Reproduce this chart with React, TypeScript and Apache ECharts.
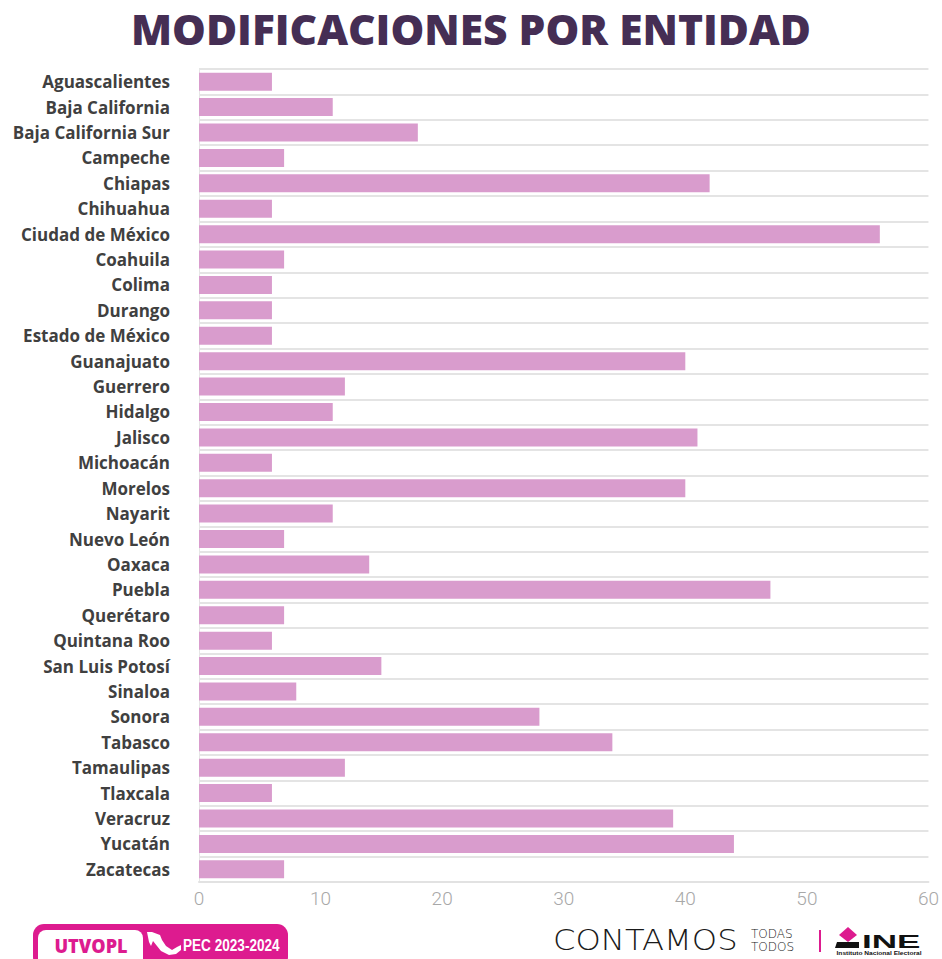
import React, { useEffect, useRef } from "react";
import * as echarts from "echarts";

const categories = [
  "Aguascalientes", "Baja California", "Baja California Sur", "Campeche", "Chiapas",
  "Chihuahua", "Ciudad de México", "Coahuila", "Colima", "Durango", "Estado de México",
  "Guanajuato", "Guerrero", "Hidalgo", "Jalisco", "Michoacán", "Morelos", "Nayarit",
  "Nuevo León", "Oaxaca", "Puebla", "Querétaro", "Quintana Roo", "San Luis Potosí",
  "Sinaloa", "Sonora", "Tabasco", "Tamaulipas", "Tlaxcala", "Veracruz", "Yucatán", "Zacatecas",
];
const values = [
  6, 11, 18, 7, 42, 6, 56, 7, 6, 6, 6, 40, 12, 11, 41, 6, 40, 11, 7, 14, 47, 7, 6, 15,
  8, 28, 34, 12, 6, 39, 44, 7,
];
const xTicks = { min: 0, max: 60, interval: 10 };
const title = "MODIFICACIONES POR ENTIDAD";

export default function App() {
  const ref = useRef<HTMLDivElement>(null);
  useEffect(() => {
    document.body.style.margin = "0";
    const chart = echarts.init(ref.current!, null, { renderer: "svg" });
    const pink = "#dd1b8f";
    chart.setOption({
      animation: false,
      backgroundColor: "#ffffff",
      title: {
        text: title,
        left: "center",
        top: 2,
        textStyle: {
          fontFamily: "Open Sans",
          fontWeight: 800,
          fontSize: 42.5,
          color: "#452e54",
        },
      },
      grid: { left: 199, right: 13, top: 69, bottom: 77, containLabel: false },
      xAxis: {
        type: "value",
        min: xTicks.min,
        max: xTicks.max,
        interval: xTicks.interval,
        axisLine: { show: true, lineStyle: { color: "#e2e2e2", width: 2 } },
        axisTick: { show: false },
        splitLine: { show: false },
        axisLabel: {
          margin: 7,
          fontFamily: "Roboto",
          fontWeight: 300,
          fontSize: 19,
          color: "#a8a8a8",
        },
      },
      yAxis: {
        type: "category",
        data: categories,
        inverse: true,
        axisLine: { show: true, lineStyle: { color: "#e6e6e6", width: 1 } },
        axisTick: { show: false },
        splitLine: { show: true, lineStyle: { color: "#e4e4e4", width: 2 } },
        axisLabel: {
          margin: 29,
          fontFamily: "Open Sans",
          fontWeight: 700,
          fontSize: 17,
          color: "#404040",
        },
      },
      series: [
        {
          type: "bar",
          data: values,
          barWidth: 18,
          itemStyle: { color: "#d99ccd" },
        },
      ],
      graphic: [
        // UTVOPL badge
        { type: "rect", shape: { x: 33, y: 924, width: 255, height: 44, r: 11 }, style: { fill: pink } },
        { type: "rect", shape: { x: 38, y: 930, width: 105, height: 40, r: 8 }, style: { fill: "#ffffff" } },
        {
          type: "text",
          x: 91, y: 945,
          scaleX: 0.95,
          style: {
            text: "UTVOPL", x: 0, y: 0, align: "center", verticalAlign: "middle",
            fontFamily: "Open Sans", fontWeight: 800, fontSize: 19, fill: pink,
          },
        },
        {
          type: "polygon",
          shape: {
            points: [
              [147, 932], [152, 932], [160, 935], [162, 940], [166, 946], [172, 950], [177, 947],
              [181, 945], [181, 950], [176, 954], [169, 955], [161, 951], [157, 946], [153, 941],
              [151, 946], [149, 942], [148, 937],
            ],
          },
          style: { fill: "#ffffff" },
        },
        {
          type: "text",
          x: 183, y: 945,
          scaleX: 0.8,
          style: {
            text: "PEC 2023-2024", x: 0, y: 0, align: "left", verticalAlign: "middle",
            fontFamily: "Liberation Sans", fontWeight: 700, fontSize: 17, fill: "#ffffff",
          },
        },
        // CONTAMOS
        {
          type: "text",
          x: 553, y: 940,
          scaleX: 1.15,
          style: {
            text: "CONTAMOS", x: 0, y: 0, align: "left", verticalAlign: "middle",
            fontFamily: "DejaVu Sans", fontWeight: 200, fontSize: 28, fill: "#1a1a1a",
          },
        },
        {
          type: "text",
          x: 751, y: 934,
          style: {
            text: "TODAS", x: 0, y: 0, align: "left", verticalAlign: "middle",
            fontFamily: "DejaVu Sans", fontWeight: 200, fontSize: 12, lineHeight: 12, fill: "#1a1a1a",
          },
        },
        {
          type: "text",
          x: 751, y: 947,
          style: {
            text: "TODOS", x: 0, y: 0, align: "left", verticalAlign: "middle",
            fontFamily: "DejaVu Sans", fontWeight: 200, fontSize: 12, lineHeight: 12, fill: "#1a1a1a",
          },
        },
        { type: "line", shape: { x1: 820, y1: 930, x2: 820, y2: 952 }, style: { stroke: pink, lineWidth: 2 } },
        // INE
        {
          type: "polygon",
          shape: { points: [[848, 927], [857, 935], [848, 942], [839, 935]] },
          style: { fill: pink },
        },
        {
          type: "polygon",
          shape: { points: [[837, 942], [859, 942], [859, 948], [835, 948]] },
          style: { fill: "#111111" },
        },
        {
          type: "text",
          x: 862, y: 942,
          scaleX: 1.95,
          style: {
            text: "INE", x: 0, y: 0, align: "left", verticalAlign: "middle",
            fontFamily: "Liberation Sans", fontWeight: 700, fontSize: 18, fill: "#111111",
          },
        },
        {
          type: "text",
          x: 879, y: 953,
          scaleX: 1.1,
          style: {
            text: "Instituto Nacional Electoral", x: 0, y: 0, align: "center", verticalAlign: "middle",
            fontFamily: "Liberation Sans", fontWeight: 700, fontSize: 6, fill: "#111111",
          },
        },
      ],
    });
    return () => chart.dispose();
  }, []);
  return <div ref={ref} style={{ width: 942, height: 959 }} />;
}
